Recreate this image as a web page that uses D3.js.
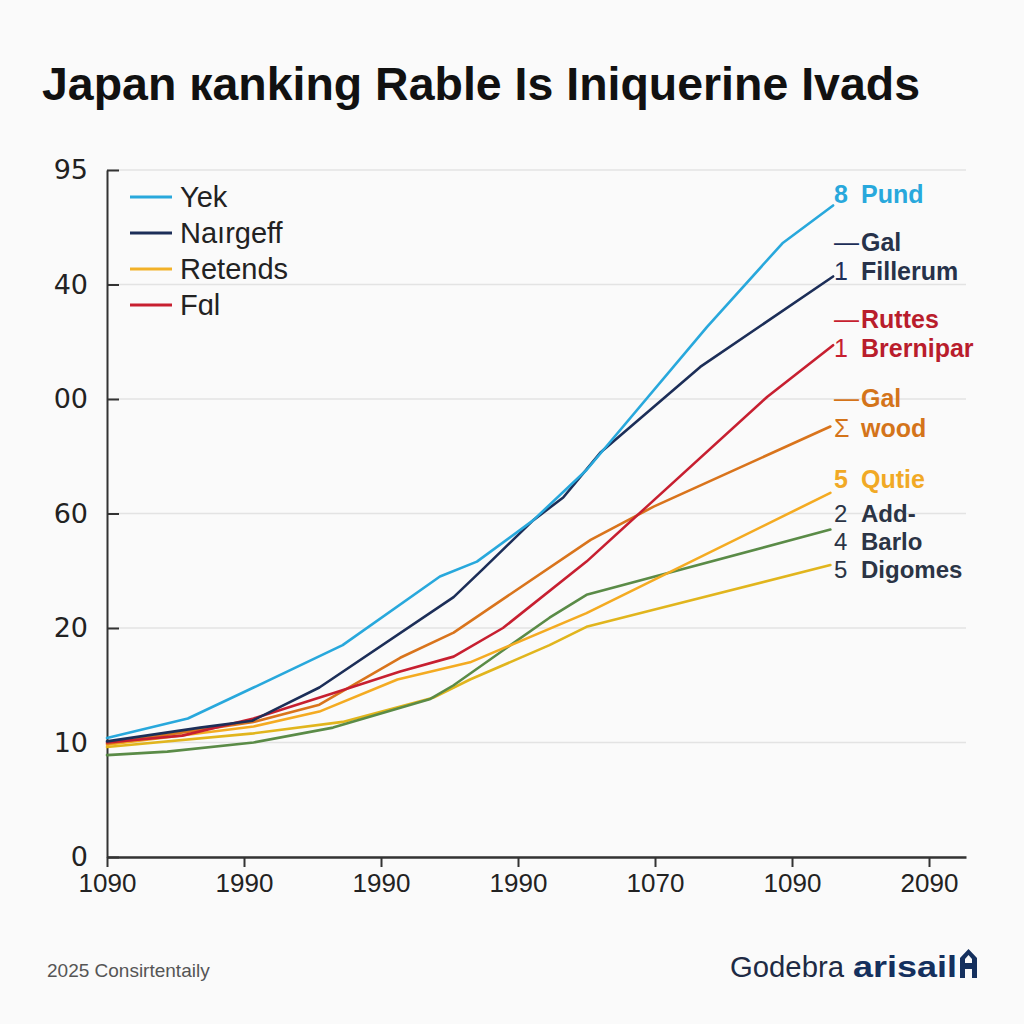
<!DOCTYPE html>
<html><head><meta charset="utf-8">
<script src="https://cdn.jsdelivr.net/npm/d3@7"></script>
<style>
html,body{margin:0;padding:0;background:#fafafa;}
svg{display:block;}
</style></head>
<body>
<svg id="chart" width="1024" height="1024"></svg>
<script>
// ---- data ----
const titleText = "Japan \u043Aanking Rable Is Iniquerine Ivads";
const xTickValues = [0, 1, 2, 3, 4, 5, 6];
const xTickLabels = ["1090", "1990", "1990", "1990", "1070", "1090", "2090"];
const yTickValues = [0, 10, 20, 30, 40, 50, 60];
const yTickLabels = ["0", "10", "20", "60", "00", "40", "95"];

const seriesNames = ["Pund", "Fillerum", "Brernipar", "wood", "Qutie", "Barlo", "Digomes"];
const pund      = [[0,10.4],[0.59,12.1],[1.07,14.8],[1.72,18.5],[2.43,24.5],[2.70,25.8],[3.11,29.4],[3.50,33.8],[4.38,46.3],[4.93,53.6],[5.30,56.9]];
const fillerum  = [[0,10.1],[0.68,11.3],[1.06,11.9],[1.55,14.8],[2.53,22.7],[2.74,25.1],[3.11,29.4],[3.33,31.4],[3.60,35.3],[4.33,42.8],[5.30,50.7]];
const brernipar = [[0,10.0],[0.55,10.6],[1.07,12.1],[1.65,14.3],[2.14,16.2],[2.53,17.5],[2.89,20.0],[3.50,25.8],[3.94,30.6],[4.82,40.2],[5.30,44.7]];
const wood      = [[0,9.9],[1.07,11.8],[1.55,13.3],[2.14,17.4],[2.53,19.6],[3.53,27.7],[3.99,30.6],[5.28,37.6]];
const qutie     = [[0,9.8],[1.07,11.4],[1.55,12.7],[2.12,15.5],[2.65,17.0],[3.50,21.3],[5.28,31.8]];
const barlo     = [[0,8.9],[0.44,9.2],[1.07,10.0],[1.65,11.3],[2.36,13.8],[2.53,15.0],[3.23,20.9],[3.50,22.9],[5.28,28.6]];
const digomes   = [[0,9.6],[1.07,10.8],[1.72,11.8],[2.38,13.9],[2.65,15.5],[3.23,18.5],[3.50,20.1],[3.99,21.6],[5.28,25.5]];
const seriesColors = ["#28a8dc", "#1c2e58", "#c71f30", "#d9741c", "#f4ab22", "#5a8b47", "#e1b51d"];

const legendNames = ["Yek", "Na\u0131rgeff", "Retends", "F\u0251l"];
const legendColors = ["#28a8dc", "#1c2e58", "#f2b128", "#c71f30"];

// end labels: [marker, text] rows per group
const endLabelGroups = [
  {color: "#28a8dc", textColor: "#28a8dc", rows: [["8", "Pund"]]},
  {color: "#1c2e58", textColor: "#27324a", rows: [["\u2014", "Gal"], ["1", "Fillerum"]]},
  {color: "#c71f30", textColor: "#b91d2c", rows: [["\u2014", "Ruttes"], ["1", "Brernipar"]]},
  {color: "#d4741a", textColor: "#d4741a", rows: [["\u2014", "Gal"], ["\u03A3", "wood"]]},
  {color: "#f1a925", textColor: "#f1a925", rows: [["5", "Qutie"]]},
  {color: "#2b3445", textColor: "#2b3445", rows: [["2", "Add-"], ["4", "Barlo"], ["5", "Digomes"]]}
];
const endLabelBaselines = [[203], [251, 280], [328, 357], [407, 437], [488], [522, 550, 578]];

const footerLeft = "2025 Consirtentaily";
const brandA = "Godebra";
const brandB = "arisail";

// ---- chart ----
const svg = d3.select("#chart");
svg.append("rect").attr("width", 1024).attr("height", 1024).attr("fill", "#fafafa");

const x = d3.scaleLinear().domain([0, 6.27]).range([107, 966]);
const y = d3.scaleLinear().domain([0, 60]).range([857, 170]);

// title
svg.append("text").attr("x", 42).attr("y", 100)
  .attr("font-family", "'Liberation Sans', Arial, sans-serif")
  .attr("font-weight", "bold").attr("font-size", 47)
  .attr("textLength", 878).attr("lengthAdjust", "spacingAndGlyphs")
  .attr("fill", "#111").text(titleText);

// grid
svg.append("g").selectAll("line").data(yTickValues).join("line")
  .attr("x1", x(0)).attr("x2", x(6.27))
  .attr("y1", d => y(d)).attr("y2", d => y(d))
  .attr("stroke", "#e3e3e3").attr("stroke-width", 1.5);

// y axis
const yAxis = d3.axisLeft(y).tickValues(yTickValues)
  .tickFormat((d, i) => yTickLabels[i])
  .tickSizeInner(-12).tickSizeOuter(0).tickPadding(19);
const gy = svg.append("g").attr("transform", `translate(${x(0)},0)`).call(yAxis);
gy.select(".domain").attr("stroke", "#333").attr("stroke-width", 2);
gy.selectAll(".tick line").attr("stroke", "#333").attr("stroke-width", 2);
gy.selectAll(".tick text").attr("font-family", "'DejaVu Sans', sans-serif")
  .attr("font-size", 27).attr("fill", "#222");

// x axis
const xAxis = d3.axisBottom(x).tickValues(xTickValues)
  .tickFormat((d, i) => xTickLabels[i])
  .tickSizeInner(10).tickSizeOuter(0).tickPadding(7);
const gx = svg.append("g").attr("transform", `translate(0,${y(0)})`).call(xAxis);
gx.select(".domain").attr("stroke", "#333").attr("stroke-width", 2.5);
gx.selectAll(".tick line").attr("stroke", "#333").attr("stroke-width", 2);
gx.selectAll(".tick text").attr("font-family", "'Liberation Sans', Arial, sans-serif")
  .attr("font-size", 26).attr("fill", "#222");

// lines
const allSeries = [pund, fillerum, brernipar, wood, qutie, barlo, digomes];
const line = d3.line().x(d => x(d[0])).y(d => y(d[1]));
const drawOrder = [6, 5, 4, 3, 2, 1, 0];
svg.append("g").selectAll("path").data(drawOrder).join("path")
  .attr("d", i => line(allSeries[i]))
  .attr("fill", "none")
  .attr("stroke", i => seriesColors[i])
  .attr("stroke-width", 2.6)
  .attr("stroke-linejoin", "round").attr("stroke-linecap", "round");

// legend
const lg = svg.append("g");
legendNames.forEach((n, i) => {
  const yy = 197 + i * 36;
  lg.append("line").attr("x1", 130).attr("x2", 172).attr("y1", yy).attr("y2", yy)
    .attr("stroke", legendColors[i]).attr("stroke-width", 3);
  lg.append("text").attr("x", 180).attr("y", yy + 10)
    .attr("font-family", "'Liberation Sans', Arial, sans-serif")
    .attr("font-size", 29).attr("fill", "#222").text(n);
});

// end labels (one text block per group, rows as tspans)
const el = svg.append("g").attr("font-family", "'Liberation Sans', Arial, sans-serif")
  .attr("font-weight", "bold");
endLabelGroups.forEach((g, gi) => {
  const t = el.append("text").attr("font-size", g.rows.length === 3 ? 24 : 25);
  g.rows.forEach((r, ri) => {
    const by = endLabelBaselines[gi][ri];
    t.append("tspan").attr("x", 834).attr("y", by).attr("fill", g.color)
      .attr("font-weight", g.rows.length === 1 ? "bold" : "normal").text(r[0]);
    t.append("tspan").attr("x", 861).attr("y", by).attr("fill", g.textColor).text(r[1]);
  });
});

// footer
svg.append("text").attr("x", 47).attr("y", 977)
  .attr("font-family", "'Liberation Sans', Arial, sans-serif")
  .attr("font-size", 19).attr("fill", "#555").text(footerLeft);
svg.append("text").attr("x", 730).attr("y", 977)
  .attr("font-family", "'Liberation Sans', Arial, sans-serif").attr("font-size", 29)
  .attr("textLength", 114).attr("lengthAdjust", "spacingAndGlyphs")
  .attr("fill", "#1e2a44").text(brandA);
svg.append("text").attr("x", 853).attr("y", 977)
  .attr("font-family", "'Liberation Sans', Arial, sans-serif").attr("font-size", 29)
  .attr("font-weight", "bold")
  .attr("textLength", 104).attr("lengthAdjust", "spacingAndGlyphs")
  .attr("fill", "#15305e").text(brandB);
svg.append("path")
  .attr("d", "M960,978 L960,958 L968.5,949 L977,958 L977,978 L972,978 L972,969 L965,969 L965,978 Z M965,963 L972,963 L972,959 L968.5,955 L965,959 Z")
  .attr("fill", "#15305e").attr("fill-rule", "evenodd");
</script>
</body></html>
